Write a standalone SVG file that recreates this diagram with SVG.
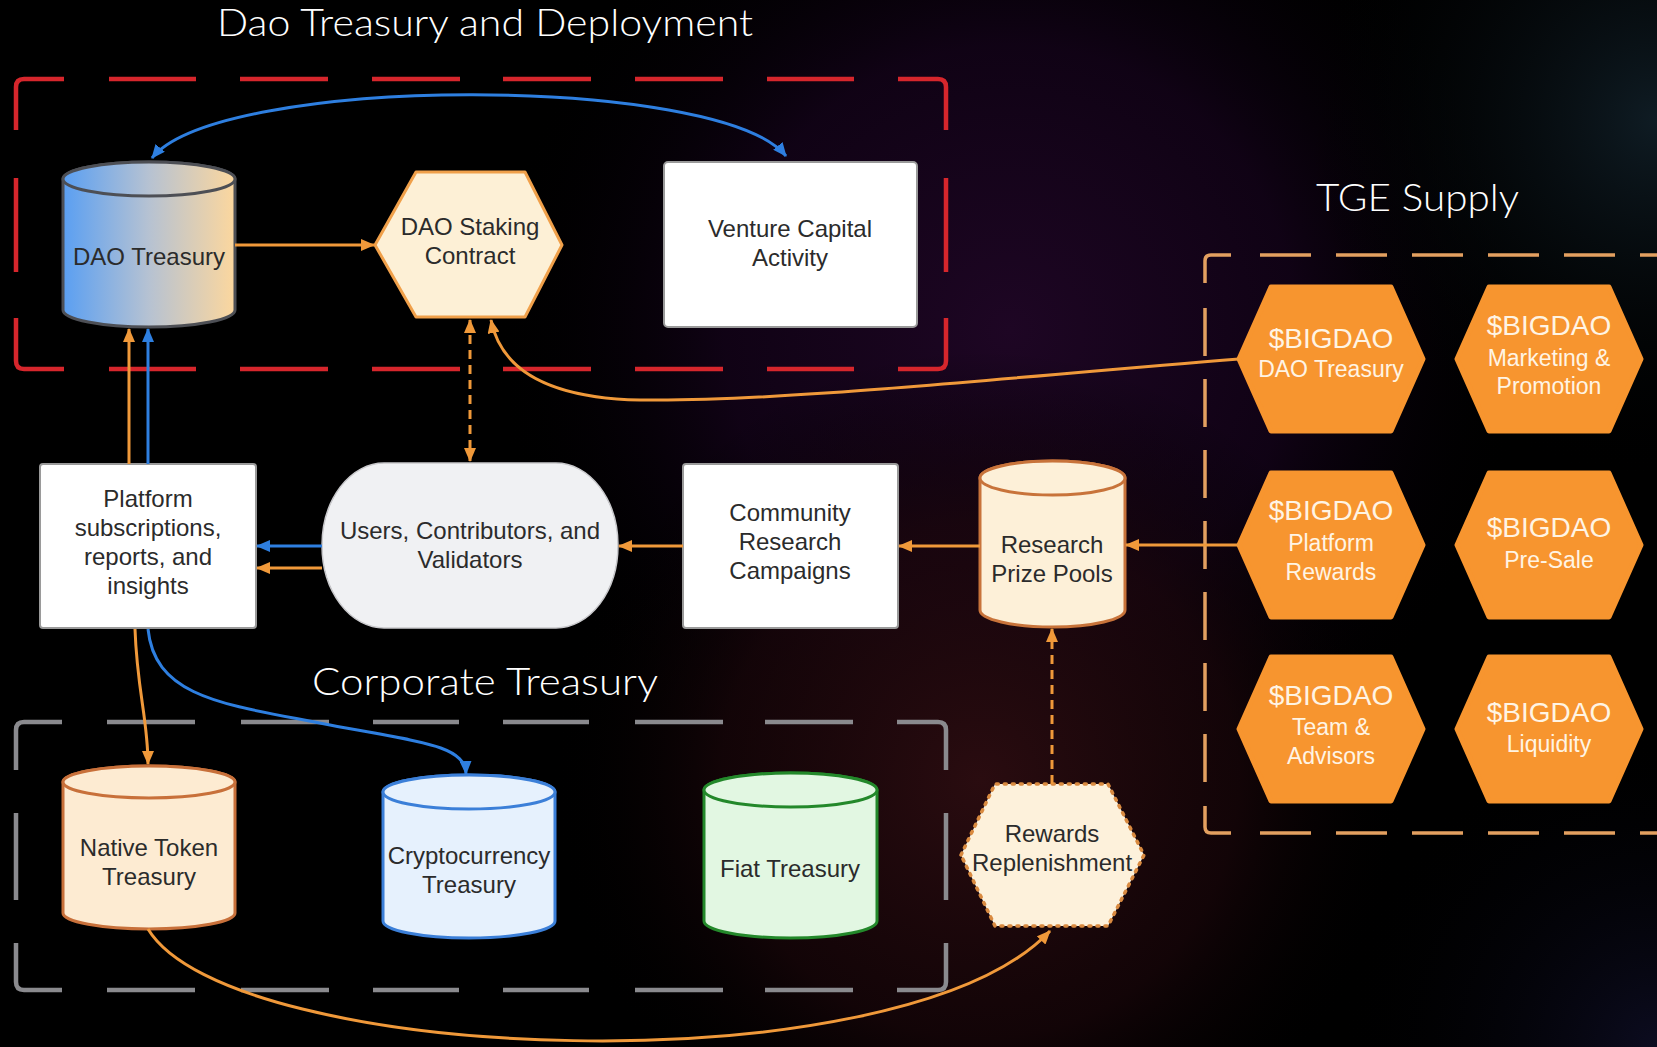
<svg xmlns="http://www.w3.org/2000/svg" width="1657" height="1047" viewBox="0 0 1657 1047">
<defs>
<style>
.n{font-family:"Liberation Sans",Arial,sans-serif;font-size:24px;fill:#2b2b2b;text-anchor:middle}
.hb{font-family:"Liberation Sans",Arial,sans-serif;font-size:28px;fill:#fff4e4;text-anchor:middle}
.hs{font-family:"Liberation Sans",Arial,sans-serif;font-size:23px;fill:#fff4e4;text-anchor:middle}
.title{font-family:Lato,"Open Sans",sans-serif;font-weight:300;font-size:37px;fill:#ffffff}
.tge{fill:#f7952f;stroke:#f7952f;stroke-width:5;stroke-linejoin:round}
.co{fill:none;stroke:#f0993a;stroke-width:3}
.cb{fill:none;stroke:#2e7fe0;stroke-width:3}
.dash{stroke-dasharray:9 6}
.box{fill:#ffffff;stroke:#9a9a9a;stroke-width:2}
</style>
<marker id="ao" viewBox="0 0 14 12" refX="13" refY="6" markerWidth="14" markerHeight="12" markerUnits="userSpaceOnUse" orient="auto-start-reverse"><path d="M0,0 L14,6 L0,12 Z" fill="#f0993a"/></marker>
<marker id="ab" viewBox="0 0 14 12" refX="13" refY="6" markerWidth="14" markerHeight="12" markerUnits="userSpaceOnUse" orient="auto-start-reverse"><path d="M0,0 L14,6 L0,12 Z" fill="#2e7fe0"/></marker>
<linearGradient id="gDao" x1="0" y1="0" x2="1" y2="0"><stop offset="0" stop-color="#5a9ff2"/><stop offset="0.5" stop-color="#b6c2d2"/><stop offset="1" stop-color="#fcd79e"/></linearGradient>
<radialGradient id="bg1" cx="1010" cy="330" r="520" gradientUnits="userSpaceOnUse"><stop offset="0" stop-color="#1e0624"/><stop offset="0.55" stop-color="#14031a" stop-opacity="0.8"/><stop offset="1" stop-color="#000" stop-opacity="0"/></radialGradient>
<radialGradient id="bg2" cx="980" cy="780" r="430" gradientUnits="userSpaceOnUse"><stop offset="0" stop-color="#2a0c10"/><stop offset="0.6" stop-color="#1a060a" stop-opacity="0.7"/><stop offset="1" stop-color="#000" stop-opacity="0"/></radialGradient>
<radialGradient id="bg3" cx="1657" cy="120" r="360" gradientUnits="userSpaceOnUse"><stop offset="0" stop-color="#0f1c24"/><stop offset="1" stop-color="#000" stop-opacity="0"/></radialGradient>
<radialGradient id="bg4" cx="1657" cy="1047" r="320" gradientUnits="userSpaceOnUse"><stop offset="0" stop-color="#0c0c20"/><stop offset="1" stop-color="#000" stop-opacity="0"/></radialGradient>
</defs>

<g id="background">
<rect width="1657" height="1047" fill="#000"/>
<rect width="1657" height="1047" fill="url(#bg1)"/>
<rect width="1657" height="1047" fill="url(#bg2)"/>
<rect width="1657" height="1047" fill="url(#bg3)"/>
<rect width="1657" height="1047" fill="url(#bg4)"/>
</g>

<g id="group-dao-treasury-deployment">
<text class="title" x="217" y="36" textLength="536" lengthAdjust="spacingAndGlyphs">Dao Treasury and Deployment</text>
<path fill="none" stroke="#d6262c" stroke-width="4.5" stroke-linecap="butt" d="M16,130 V87 Q16,79 24,79 H64 M109,79 H196 M240,79 H328 M372,79 H460 M503,79 H591 M635,79 H723 M767,79 H854 M898,79 H938 Q946,79 946,87 V130 M946,178 V272 M946,318 V361 Q946,369 938,369 H898 M854,369 H767 M723,369 H635 M591,369 H503 M460,369 H372 M328,369 H240 M196,369 H109 M64,369 H24 Q16,369 16,361 V318 M16,272 V178"/>
</g>

<g id="group-corporate-treasury">
<text class="title" x="312" y="695" textLength="346" lengthAdjust="spacingAndGlyphs">Corporate Treasury</text>
<path fill="none" stroke="#8a8a8e" stroke-width="4.5" d="M16,770 V730 Q16,722 24,722 H62 M107,722 H195 M241,722 H329 M373,722 H459 M503,722 H589 M635,722 H723 M765,722 H853 M897,722 H938 Q946,722 946,730 V770 M946,813 V900 M946,943 V982 Q946,990 938,990 H897 M853,990 H765 M723,990 H635 M589,990 H503 M459,990 H373 M329,990 H241 M195,990 H107 M62,990 H24 Q16,990 16,982 V943 M16,900 V813"/>
</g>

<g id="group-tge-supply">
<text class="title" x="1316" y="211" textLength="203" lengthAdjust="spacingAndGlyphs">TGE Supply</text>
<path fill="none" stroke="#e3a060" stroke-width="3.5" d="M1205,283 V261 Q1205,255 1211,255 H1231 M1205,806 V827 Q1205,833 1211,833 H1231"/>
<path fill="none" stroke="#e3a060" stroke-width="3.5" stroke-dasharray="51 25" d="M1260,255 H1657 M1260,833 H1657"/>
<path fill="none" stroke="#e3a060" stroke-width="3.5" stroke-dasharray="48 23" d="M1205,308 V783"/>
</g>

<g id="n-dao-treasury">
<path d="M63,179 V310 A86,17 0 0 0 235,310 V179 A86,17 0 0 0 63,179 Z" fill="url(#gDao)" stroke="#4d4f55" stroke-width="3"/>
<ellipse cx="149" cy="179" rx="86" ry="17" fill="url(#gDao)" stroke="#4d4f55" stroke-width="3"/>
<text class="n" x="149" y="265">DAO Treasury</text>
</g>

<g id="n-dao-staking">
<polygon points="375,245 416,172 525,172 562,245 525,317 416,317" fill="#fdf0d6" stroke="#f0a04a" stroke-width="3" stroke-linejoin="round"/>
<text class="n" x="470" y="235">DAO Staking</text>
<text class="n" x="470" y="264">Contract</text>
</g>

<g id="n-venture">
<rect class="box" x="664" y="162" width="253" height="165" rx="4"/>
<text class="n" x="790" y="237">Venture Capital</text>
<text class="n" x="790" y="266">Activity</text>
</g>

<g id="n-platform">
<rect class="box" x="40" y="464" width="216" height="164" rx="3"/>
<text class="n" x="148" y="507">Platform</text>
<text class="n" x="148" y="536">subscriptions,</text>
<text class="n" x="148" y="565">reports, and</text>
<text class="n" x="148" y="594">insights</text>
</g>

<g id="n-users">
<rect x="322" y="463" width="296" height="165" rx="62" ry="82.5" fill="#f0f1f3" stroke="#c9c9cc" stroke-width="1.5"/>
<text class="n" x="470" y="539">Users, Contributors, and</text>
<text class="n" x="470" y="568">Validators</text>
</g>

<g id="n-community">
<rect class="box" x="683" y="464" width="215" height="164" rx="3"/>
<text class="n" x="790" y="521">Community</text>
<text class="n" x="790" y="550">Research</text>
<text class="n" x="790" y="579">Campaigns</text>
</g>

<g id="n-prize-pools">
<path d="M980,478 V610 A72.5,17 0 0 0 1125,610 V478 A72.5,17 0 0 0 980,478 Z" fill="#fdf0d8" stroke="#c8733a" stroke-width="3"/>
<ellipse cx="1052.5" cy="478" rx="72.5" ry="17" fill="#fdf0d8" stroke="#c8733a" stroke-width="3"/>
<text class="n" x="1052" y="553">Research</text>
<text class="n" x="1052" y="582">Prize Pools</text>
</g>

<g id="n-native-token">
<path d="M63,782 V913 A86,16 0 0 0 235,913 V782 A86,16 0 0 0 63,782 Z" fill="#fdebd2" stroke="#c8703a" stroke-width="3"/>
<ellipse cx="149" cy="782" rx="86" ry="16" fill="#fdebd2" stroke="#c8703a" stroke-width="3"/>
<text class="n" x="149" y="856">Native Token</text>
<text class="n" x="149" y="885">Treasury</text>
</g>

<g id="n-crypto">
<path d="M383,792 V921 A86,17 0 0 0 555,921 V792 A86,17 0 0 0 383,792 Z" fill="#e6f1fd" stroke="#3b7fd8" stroke-width="3"/>
<ellipse cx="469" cy="792" rx="86" ry="17" fill="#e6f1fd" stroke="#3b7fd8" stroke-width="3"/>
<text class="n" x="469" y="864">Cryptocurrency</text>
<text class="n" x="469" y="893">Treasury</text>
</g>

<g id="n-fiat">
<path d="M704,790 V921 A86.5,17 0 0 0 877,921 V790 A86.5,17 0 0 0 704,790 Z" fill="#e2f7e2" stroke="#23882a" stroke-width="3"/>
<ellipse cx="790.5" cy="790" rx="86.5" ry="17" fill="#e2f7e2" stroke="#23882a" stroke-width="3"/>
<text class="n" x="790" y="877">Fiat Treasury</text>
</g>

<g id="n-rewards">
<polygon points="961,855 995,784 1108,784 1144,855 1108,926 995,926" fill="#fdf1db" stroke="#d98a40" stroke-width="3.5" stroke-dasharray="2 6" stroke-linecap="round" stroke-linejoin="round"/>
<text class="n" x="1052" y="842">Rewards</text>
<text class="n" x="1052" y="871">Replenishment</text>
</g>

<g id="n-tge-dao-treasury">
<polygon class="tge" points="1239,359 1271,287 1391,287 1423,359 1391,431 1271,431"/>
<text class="hb" x="1331" y="348">$BIGDAO</text>
<text class="hs" x="1331" y="377">DAO Treasury</text>
</g>
<g id="n-tge-marketing">
<polygon class="tge" points="1457,359 1489,287 1609,287 1641,359 1609,431 1489,431"/>
<text class="hb" x="1549" y="335">$BIGDAO</text>
<text class="hs" x="1549" y="366">Marketing &amp;</text>
<text class="hs" x="1549" y="394">Promotion</text>
</g>
<g id="n-tge-platform-rewards">
<polygon class="tge" points="1239,545 1271,473 1391,473 1423,545 1391,617 1271,617"/>
<text class="hb" x="1331" y="520">$BIGDAO</text>
<text class="hs" x="1331" y="551">Platform</text>
<text class="hs" x="1331" y="580">Rewards</text>
</g>
<g id="n-tge-presale">
<polygon class="tge" points="1457,545 1489,473 1609,473 1641,545 1609,617 1489,617"/>
<text class="hb" x="1549" y="537">$BIGDAO</text>
<text class="hs" x="1549" y="568">Pre-Sale</text>
</g>
<g id="n-tge-team">
<polygon class="tge" points="1239,729 1271,657 1391,657 1423,729 1391,801 1271,801"/>
<text class="hb" x="1331" y="705">$BIGDAO</text>
<text class="hs" x="1331" y="735">Team &amp;</text>
<text class="hs" x="1331" y="764">Advisors</text>
</g>
<g id="n-tge-liquidity">
<polygon class="tge" points="1457,729 1489,657 1609,657 1641,729 1609,801 1489,801"/>
<text class="hb" x="1549" y="722">$BIGDAO</text>
<text class="hs" x="1549" y="752">Liquidity</text>
</g>

<g id="connectors">
<path class="cb" d="M152,158 C220,74 720,74 786,156" marker-start="url(#ab)" marker-end="url(#ab)"/>
<path class="co" d="M235,245 H374" marker-end="url(#ao)"/>
<path class="co" d="M129,464 V329" marker-end="url(#ao)"/>
<path class="cb" d="M148,464 V329" marker-end="url(#ab)"/>
<path class="co dash" d="M470,320 V461" marker-start="url(#ao)" marker-end="url(#ao)"/>
<path class="co" d="M1239,359 C1000,378 780,402 640,400 C540,398 500,365 491,320" marker-end="url(#ao)"/>
<path class="cb" d="M322,546 H257" marker-end="url(#ab)"/>
<path class="co" d="M322,568 H257" marker-end="url(#ao)"/>
<path class="co" d="M683,546 H619" marker-end="url(#ao)"/>
<path class="co" d="M980,546 H899" marker-end="url(#ao)"/>
<path class="co" d="M1239,545 H1126" marker-end="url(#ao)"/>
<path class="co dash" d="M1052,784 V629" marker-end="url(#ao)"/>
<path class="co" d="M135,629 C137,690 148,720 148,764" marker-end="url(#ao)"/>
<path class="cb" d="M148,629 C155,700 230,705 330,725 C420,742 465,745 466,774" marker-end="url(#ab)"/>
<path class="co" d="M148,929 C230,1065 900,1090 1050,931" marker-end="url(#ao)"/>
</g>
</svg>
